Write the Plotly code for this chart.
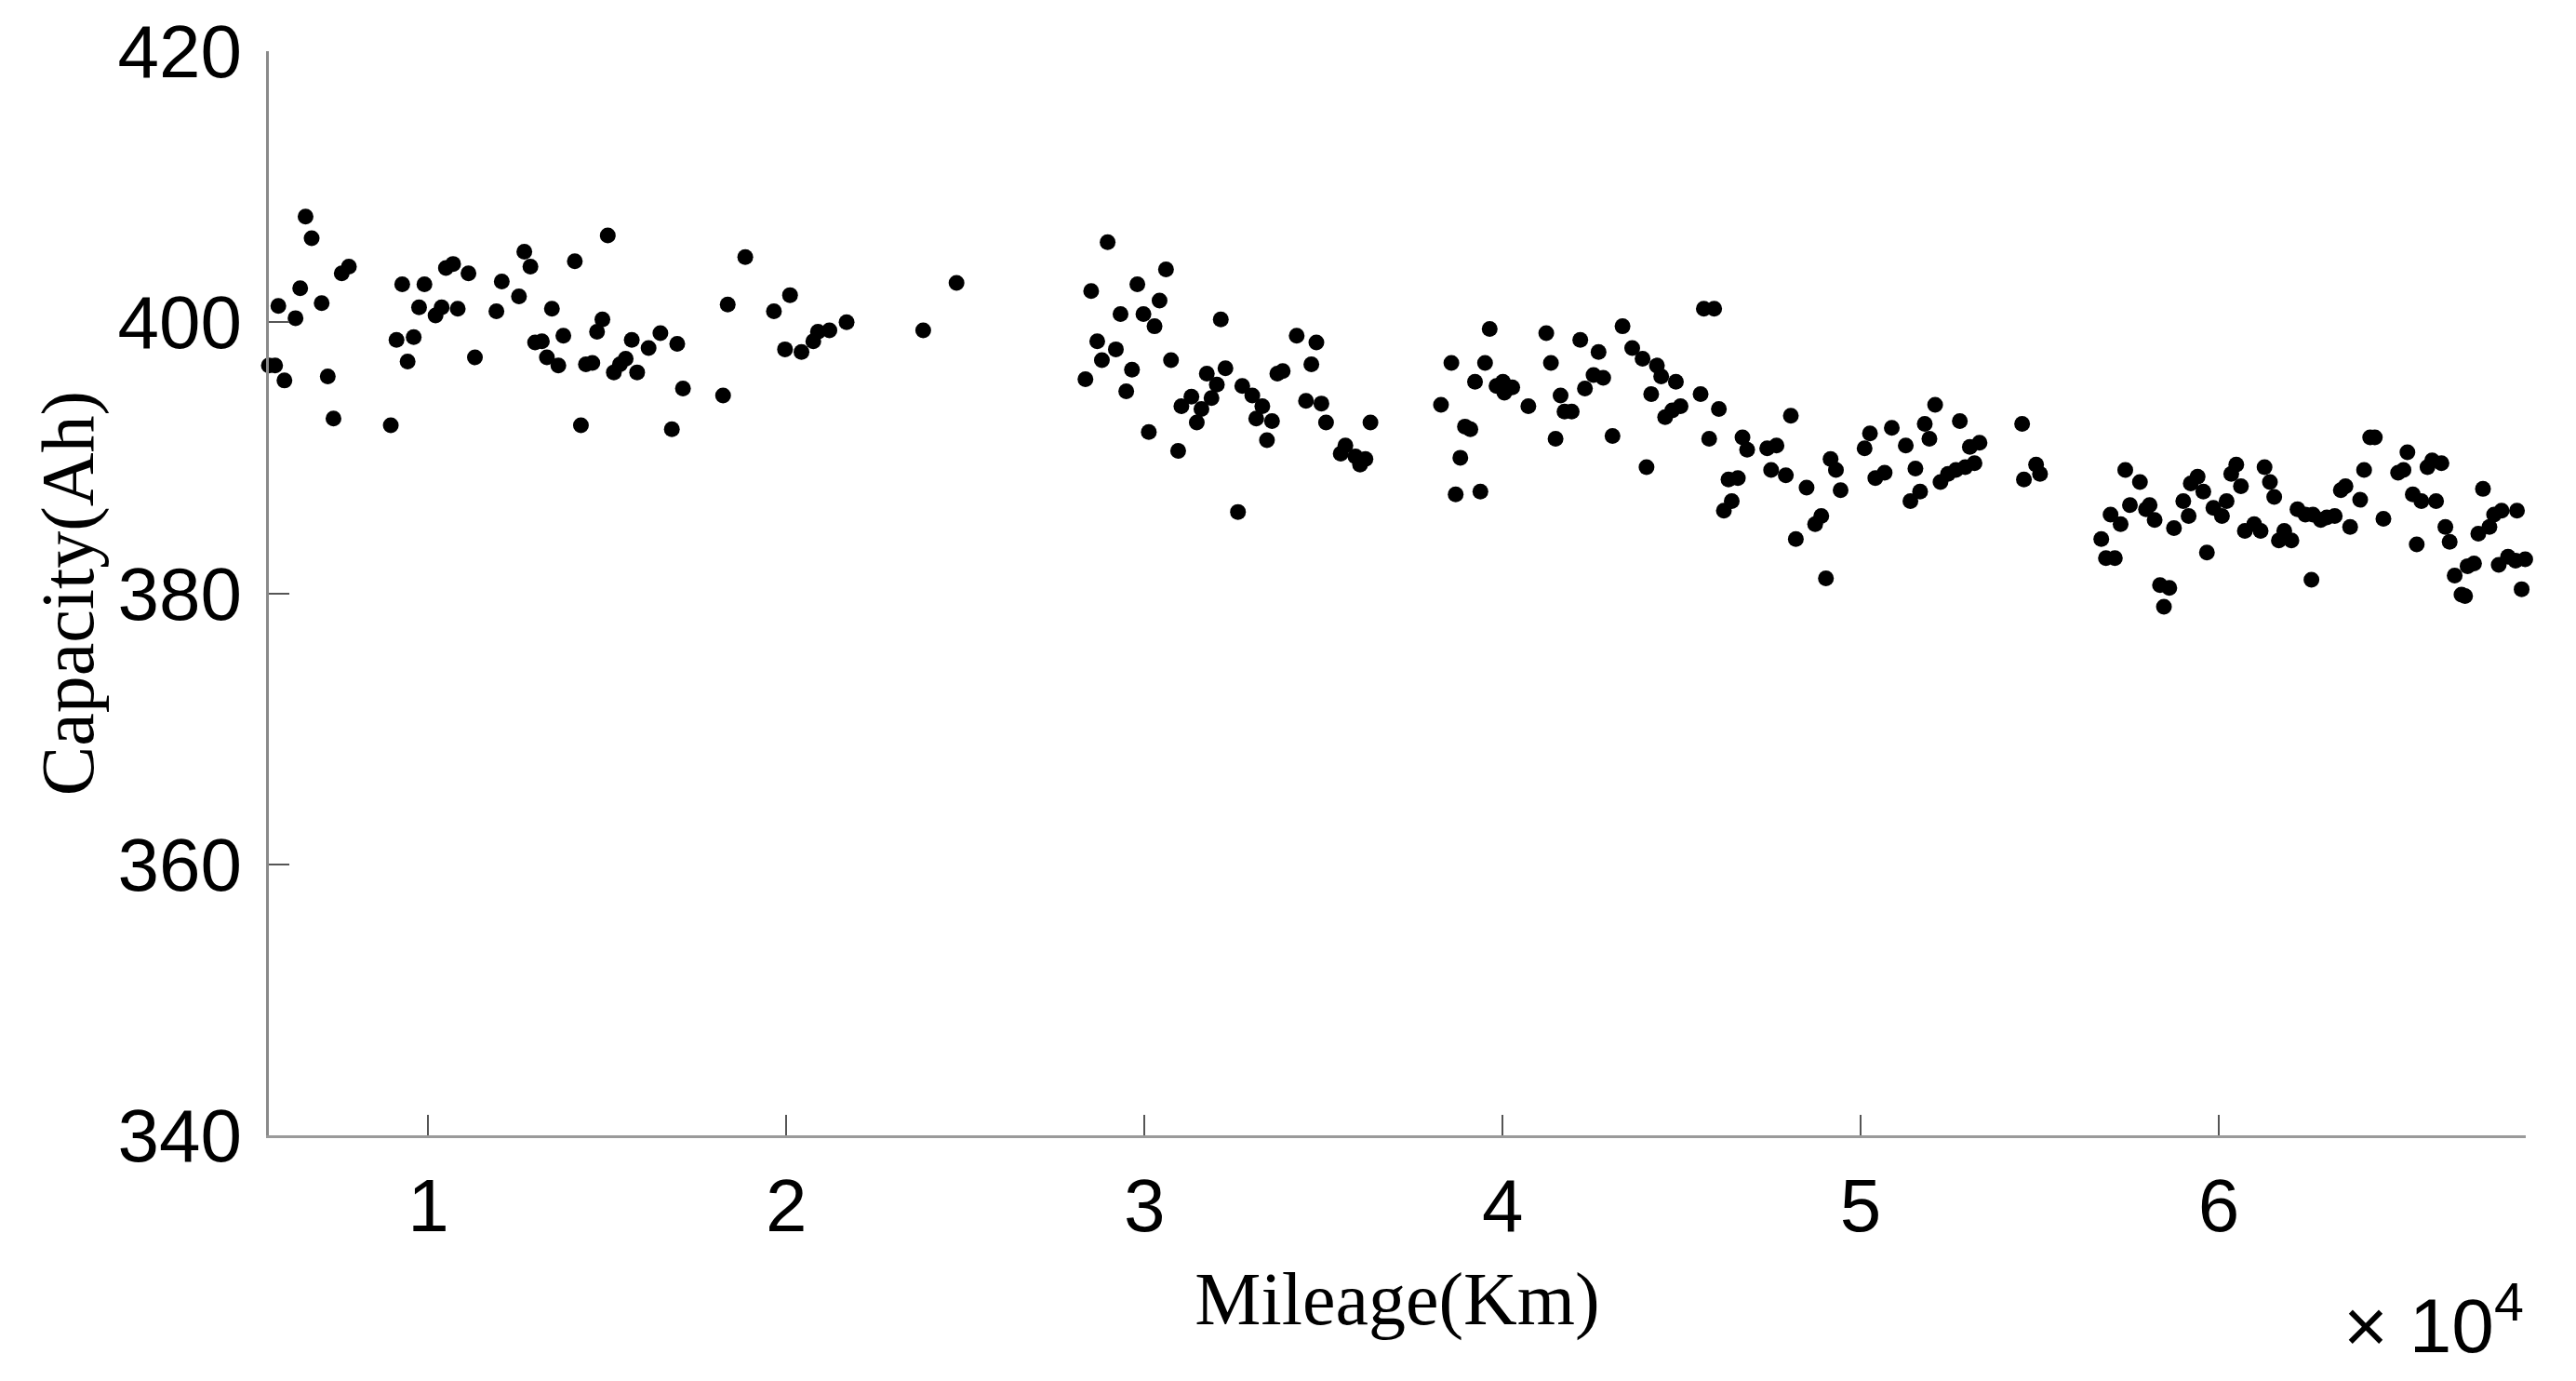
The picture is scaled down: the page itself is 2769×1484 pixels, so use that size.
import plotly.graph_objects as go

# mileage (km) and capacity (Ah), left to right
mileage_km = [
    5545, 5720, 5810, 5980, 6290, 6420, 6570, 6740, 7020, 7190, 7350, 7580, 7780,
    8950, 9110, 9270, 9420, 9590, 9740, 9890, 10200, 10370, 10490, 10690, 10820,
    11120, 11300, 11900, 12050, 12530, 12680, 12850, 12980, 13170, 13310, 13450,
    13630, 13770, 14090, 14260, 14400, 14580, 14710, 14860, 15010, 15180, 15350,
    15510, 15680, 15830, 16150,
    16480, 16950, 16800, 17110, 18230, 18360, 18850, 19650, 20100, 19960, 20420,
    20750, 20880, 21200, 21680, 23820, 24750,
    28970, 28510, 29800, 30600, 30420, 29330, 29970, 30280, 28680, 29200, 28810,
    29650, 28350, 29490, 30740, 32130, 30120, 30940, 31030, 31310, 31740, 32020,
    31870, 31590, 31460, 32260, 32730, 33010, 33290, 33120, 33560, 33420, 32610,
    33710, 33860, 34250, 34800, 34660, 34510, 34940, 35070, 36310, 35480, 35610,
    35890, 36170, 36020,
    38280, 38570, 38950, 39100, 38820, 38690, 39380, 39230, 39510, 39640, 39830,
    40050, 40270, 40010, 40720, 41220, 41350, 41620, 41730, 41930, 41480, 42170,
    42300, 42680, 42540, 42810, 43070, 43350, 43620, 43910, 44310, 44430, 44840,
    44150, 44540, 44740, 44970, 44020, 45530, 45620, 45910, 46040, 45770, 46700,
    46830, 47390, 47650, 47500, 47910, 46310, 46570, 46400, 46180,
    48050, 48190, 48490, 48730, 48900, 49030, 49160, 49310, 49440, 50110, 50260,
    50870, 50410, 50670, 51260, 51530, 51390, 51660, 51790, 51920, 52080, 52230,
    52440, 52660, 52920, 53180, 52770, 53050, 53320, 54510, 54560, 54900, 55010,
    56720, 56850, 57100, 56980, 57260, 57390, 57800, 57520, 57970, 58070, 58210,
    58360, 58620, 58470,
    58750, 59010, 59160, 59220, 59410, 59570, 59670, 59850, 60090, 60220, 60350,
    60490, 60620, 60730, 60990, 61170, 61280, 61430, 61550, 61680, 61830, 62030,
    62200, 62420, 62630, 62850, 63020, 63240, 62590, 63410, 63540, 63670, 63950,
    64060, 64230, 64360, 64600, 65010, 65160, 65270, 65420, 65660, 65530, 65830,
    65960, 66220, 66070, 66330, 66450, 66590, 66780, 66880, 66950, 67130, 67380,
    67250, 67560, 67690, 67900, 68330, 67820, 68080, 68290, 68560, 68460,
]

capacity_ah = [
    396.8, 396.8, 401.2, 395.7, 400.3, 402.5, 407.8, 406.2, 401.4, 396.0, 392.9, 403.6, 404.1,
    392.4, 398.7, 402.8, 397.1, 398.9, 401.1, 402.8, 400.5, 401.1, 404.0, 404.3, 401.0,
    403.6, 397.4, 400.8, 403.0, 401.9, 405.2, 404.1, 398.5, 398.6, 397.4, 401.0,
    396.8, 399.0, 404.5, 392.4, 396.9, 397.0, 399.3, 400.2, 406.4, 396.3, 396.9,
    397.3, 398.7, 396.3, 398.1,
    399.2, 398.4, 392.1, 395.1, 394.6, 401.3, 404.8, 400.8, 402.0, 398.0, 397.8,
    398.6, 399.3, 399.4, 400.0, 399.4, 402.9,
    405.9, 402.3, 402.8, 403.9, 401.6, 400.6, 400.6, 399.7, 398.6, 398.0, 397.2,
    396.5, 395.8, 394.9, 397.2, 400.2, 391.9, 390.5, 393.8, 394.5, 396.2, 395.4,
    394.4, 393.6, 392.6, 396.6, 395.3, 394.6, 393.8, 392.9, 392.7, 391.3, 386.0,
    396.2, 396.4, 399.0, 398.5, 396.9, 394.2, 394.0, 392.6, 392.6, 390.3, 390.9,
    390.1, 389.9, 389.5,
    393.9, 397.0, 392.3, 392.1, 390.0, 387.3, 387.5, 395.6, 397.0, 399.5, 395.3,
    394.8, 395.2, 395.6, 393.8, 399.2, 397.0, 394.6, 393.4, 393.4, 391.4, 398.7,
    395.1, 397.8, 396.1, 395.9, 391.6, 399.7, 398.1, 397.3, 396.8, 396.0, 395.6,
    394.7, 393.0, 393.5, 393.8, 389.3, 394.7, 401.0, 401.0, 393.6, 391.4, 391.5,
    390.6, 390.7, 390.9, 389.1, 388.7, 388.4, 388.5, 386.8, 386.1,
    393.1, 384.0, 387.8, 385.1, 385.7, 381.1, 389.9, 389.1, 387.6, 390.7, 391.8,
    392.2, 388.5, 388.9, 390.9, 389.2, 386.8, 387.5, 392.5, 391.4, 393.9, 388.2,
    388.8, 389.1, 389.3, 389.6, 392.7, 390.8, 391.1, 392.5, 388.4, 389.5, 388.8,
    384.0, 382.6, 382.6, 385.8, 385.1, 389.1, 388.2, 386.5, 386.2, 386.5, 385.4,
    380.6, 380.4, 379.0,
    384.8, 386.8, 385.7, 388.1, 388.6, 387.5, 383.0, 386.3, 385.7, 386.8, 388.8,
    389.5, 387.9, 384.6, 385.1, 384.6, 389.3, 388.2, 387.1, 383.9, 384.6, 383.9,
    386.2, 385.8, 385.8, 385.4, 385.6, 385.7, 381.0, 387.6, 387.9, 384.9, 386.9,
    389.1, 391.5, 391.5, 385.5, 388.9, 389.1, 390.4, 387.3, 386.8, 383.6, 389.3,
    389.8, 389.6, 386.8, 384.9, 383.8, 381.3, 379.9, 379.8, 382.0, 382.2, 387.7,
    384.4, 384.9, 385.8, 386.1, 386.1, 382.1, 382.7, 382.4, 382.5, 380.3,
]

x_ticks = [10000, 20000, 30000, 40000, 50000, 60000]
x_ticklabels = ["1", "2", "3", "4", "5", "6"]
y_ticks = [340, 360, 380, 400, 420]

fig = go.Figure()

fig.add_trace(go.Scatter(x=mileage_km, y=capacity_ah,
                         mode="markers",
                         marker=dict(color="black", size=17, line=dict(width=0)),
                         cliponaxis=False,
                         showlegend=False))

axis_font = dict(family="Liberation Sans, Arial", size=80, color="black")
title_font = dict(family="Liberation Serif, Times New Roman", size=80, color="black")

fig.update_layout(
    width=2769, height=1484,
    margin=dict(l=281, r=62, t=47, b=272, autoexpand=False),
    paper_bgcolor="white",
    plot_bgcolor="white",
    xaxis=dict(range=[5545, 68575], automargin=False,
               tickvals=x_ticks, ticktext=x_ticklabels,
               ticks="inside", ticklen=22, tickwidth=2, tickcolor="#555555",
               showline=True, linecolor="#9a9a9a", linewidth=3,
               showgrid=False, zeroline=False,
               tickfont=axis_font, ticklabelstandoff=4,
               ticklabeloverflow="allow",
               title=dict(text="Mileage(Km)", font=title_font, standoff=28)),
    yaxis=dict(range=[340, 420], automargin=False,
               tickvals=y_ticks,
               ticks="inside", ticklen=22, tickwidth=2, tickcolor="#555555",
               showline=True, linecolor="#8a8a8a", linewidth=3,
               showgrid=False, zeroline=False,
               tickfont=axis_font, ticklabelstandoff=10,
               ticklabeloverflow="allow",
               title=dict(text="Capacity(Ah)", font=title_font, standoff=0)),
    annotations=[dict(text="× 10<sup>4</sup>", xref="paper", yref="paper",
                      x=1.0, y=-0.17, xanchor="right", yanchor="middle",
                      showarrow=False,
                      font=dict(family="Liberation Sans, Arial", size=82, color="black"))],
)

fig.write_html("out.html")
